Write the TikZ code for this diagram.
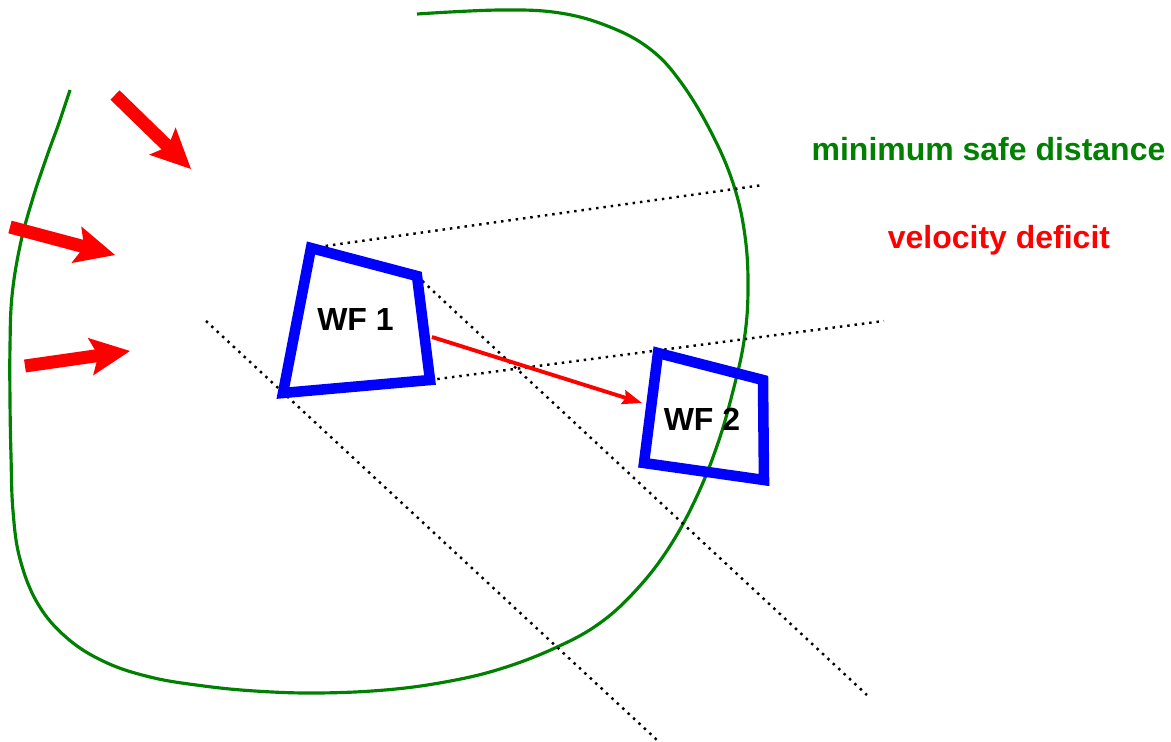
\documentclass[tikz,border=0pt]{standalone}
\usepackage{fontspec}
\setmainfont{Liberation Sans}
\usepackage{tikz}
\usetikzlibrary{arrows.meta,positioning}
\usepackage{xcolor}
\definecolor{safegreen}{RGB}{0,128,0}
\definecolor{farmblue}{RGB}{0,0,255}
\definecolor{wakered}{RGB}{255,0,0}
\tikzset{
  farmbox/.style={
    draw=farmblue,
    line width=3pt,
    line join=miter
  },
  farmlabel/.style={
    font=\fontsize{9.1}{11}\selectfont\bfseries,
    anchor=base,
    inner sep=0pt
  },
  legendtext/.style={
    font=\fontsize{9.1}{11}\selectfont\bfseries,
    anchor=base,
    inner sep=0pt
  },
  safeline/.style={
    draw=safegreen,
    line width=0.9pt
  },
  wakeline/.style={
    draw=black,
    line width=0.7pt,
    dash pattern=on 0.7pt off 1.4pt
  },
  windarrow/.style={
    -{Stealth[length=0.4cm,width=0.38cm,inset=0.08cm,line width=0pt]},
    draw=wakered,
    line width=3.7pt
  },
  deficitarrow/.style={
    -{Stealth[length=0.2cm,width=0.15cm,inset=0.03cm,line width=0pt]},
    draw=wakered,
    line width=1.1pt
  }
}

\begin{document}
\begin{tikzpicture}
\useasboundingbox (0,0) rectangle (11.71,7.41);

% minimum safe distance boundary
\draw[safeline] plot[smooth, tension=0.65] coordinates {
  (4.17,7.27) (5.00,7.31) (5.60,7.28) (6.10,7.14) (6.50,6.92)
  (6.80,6.60) (7.10,6.11) (7.33,5.58) (7.45,5.05) (7.48,4.50)
  (7.44,4.00) (7.33,3.50) (7.18,2.98) (6.97,2.45) (6.70,1.95)
  (6.38,1.53) (6.00,1.18) (5.55,0.93) (5.00,0.72) (4.45,0.59)
  (3.85,0.51) (3.17,0.48) (2.55,0.50) (2.00,0.555) (1.50,0.64)
  (1.05,0.79) (0.67,1.03) (0.38,1.37) (0.20,1.82) (0.13,2.30)
  (0.11,2.85) (0.10,3.40) (0.10,3.95) (0.12,4.45) (0.20,4.95)
  (0.32,5.40) (0.47,5.85) (0.59,6.18) (0.70,6.51)};

% wind farm corners
\coordinate (f1a) at (3.11,4.93);
\coordinate (f1b) at (4.17,4.65);
\coordinate (f1c) at (4.30,3.61);
\coordinate (f1d) at (2.83,3.48);
\coordinate (f2a) at (6.58,3.88);
\coordinate (f2b) at (7.63,3.61);
\coordinate (f2c) at (7.64,2.61);
\coordinate (f2d) at (6.44,2.78);

% wake edges
\coordinate (wk1) at (7.63,5.56);
\coordinate (wk2) at (8.84,4.20);
\coordinate (wk3s) at (2.06,4.20);
\coordinate (wk3) at (6.57,0.01);
\coordinate (wk4) at (8.67,0.46);
\draw[wakeline] (f1a) -- (wk1);
\draw[wakeline] (f1c) -- (wk2);
\draw[wakeline] (wk3s) -- (wk3);
\draw[wakeline] (f1b) -- (wk4);

\draw[farmbox] (f1a) -- (f1b) -- (f1c) -- (f1d) -- cycle;
\draw[farmbox] (f2a) -- (f2b) -- (f2c) -- (f2d) -- cycle;
\node[farmlabel] (wf1) at (3.555,4.11) {WF 1};
\node[farmlabel] (wf2) at (7.02,3.11) {WF 2};

% velocity deficit from WF 1 to WF 2
\coordinate (wf1out) at (4.32,4.04);
\coordinate (wf2in) at (6.42,3.38);
\draw[deficitarrow] (wf1out) -- (wf2in);

% incoming wind
\coordinate (w1s) at (1.15,6.46);
\coordinate (w1e) at (1.91,5.72);
\coordinate (w2s) at (0.10,5.14);
\coordinate (w2e) at (1.15,4.86);
\coordinate (w3s) at (0.25,3.75);
\coordinate (w3e) at (1.30,3.90);
\draw[windarrow] (w1s) -- (w1e);
\draw[windarrow] (w2s) -- (w2e);
\draw[windarrow] (w3s) -- (w3e);

\node[legendtext, text=safegreen] (safe) at (9.885,5.81) {minimum safe distance};
\node[legendtext, text=wakered] (deficit) at (9.99,4.93) {velocity deficit};
\end{tikzpicture}
\end{document}
